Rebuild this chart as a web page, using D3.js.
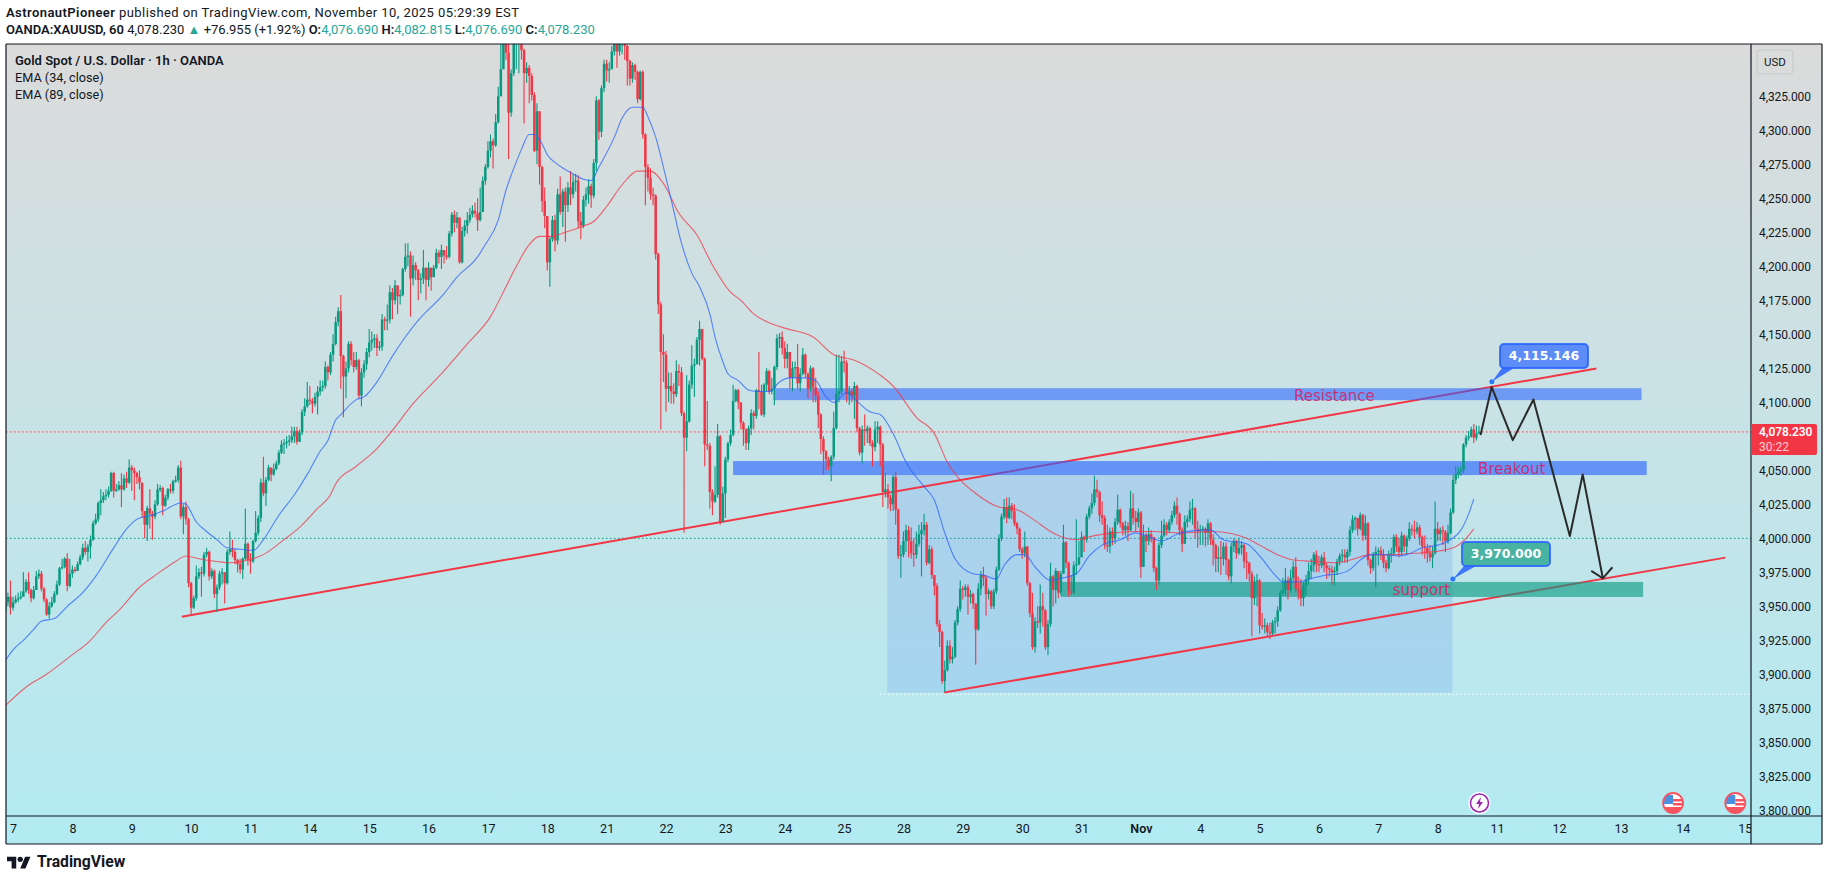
<!DOCTYPE html>
<html>
<head>
<meta charset="utf-8">
<title>XAUUSD 1h</title>
<script src="https://cdn.jsdelivr.net/npm/d3@7"></script>
<style>
  html, body { margin: 0; padding: 0; background: #fff; }
  svg { display: block; }
  text { font-family: Roboto, sans-serif; fill: #131722; }
</style>
</head>
<body>
<svg id="chart" width="1829" height="881"></svg>
<script>
var firstOpen = 3946;

// hourly bars, oldest first
var closes = [
  3953,3957,3949,3953,3955,3956,3957,3961,3968,3962,
  3956,3962,3972,3974,3963,3955,3944,3950,3953,3959,
  3966,3978,3979,3985,3965,3974,3977,3976,3981,3986,
  3993,3990,3994,3999,4011,4014,4026,4028,4031,4032,
  4035,4048,4035,4036,4039,4036,4044,4041,4052,4050,
  4048,4045,4041,4020,4010,4022,4018,4016,4025,4036,
  4037,4024,4030,4036,4035,4042,4043,4052,4016,4023,
  4014,3967,3949,3956,3972,3975,3974,3988,3990,3972,
  3976,3959,3964,3974,3975,3967,3990,3992,3990,3984,
  3981,3977,3985,3996,3984,3983,3998,4004,4015,4041,
  4033,4043,4052,4047,4051,4055,4063,4069,4070,4071,
  4072,4075,4079,4071,4078,4093,4097,4102,4101,4099,
  4104,4108,4111,4112,4126,4122,4135,4143,4159,4167,
  4134,4119,4125,4143,4131,4126,4131,4105,4122,4128,
  4137,4144,4146,4147,4140,4141,4161,4160,4161,4181,
  4175,4186,4178,4179,4198,4207,4208,4191,4201,4197,
  4190,4191,4199,4190,4199,4192,4199,4210,4207,4212,
  4208,4207,4224,4238,4232,4236,4203,4226,4230,4234,
  4238,4241,4239,4234,4240,4263,4273,4285,4292,4289,
  4306,4325,4345,4364,4357,4313,4342,4365,4370,4378,
  4359,4342,4346,4340,4326,4285,4314,4273,4248,4237,
  4203,4220,4234,4219,4253,4240,4255,4245,4258,4253,
  4262,4263,4233,4230,4249,4253,4259,4252,4276,4322,
  4299,4331,4349,4344,4345,4358,4364,4358,4364,4366,
  4362,4351,4338,4348,4343,4323,4343,4297,4273,4265,
  4253,4252,4209,4172,4137,4135,4110,4112,4108,4106,
  4123,4122,4092,4074,4086,4113,4127,4128,4146,4154,
  4132,4069,4068,4034,4027,4032,4075,4012,4033,4058,
  4070,4076,4101,4109,4100,4085,4080,4070,4081,4092,
  4090,4109,4108,4091,4113,4123,4108,4110,4126,4147,
  4148,4140,4132,4137,4118,4125,4126,4114,4121,4135,
  4121,4110,4125,4111,4105,4091,4073,4064,4058,4053,
  4060,4081,4106,4108,4130,4129,4106,4108,4105,4112,
  4081,4063,4080,4079,4081,4070,4067,4080,4082,4069,
  4034,4036,4030,4025,4045,4021,3987,3988,3998,4006,
  3998,3989,3988,3996,4003,4006,4010,3982,3992,3973,
  3965,3937,3931,3895,3903,3921,3911,3913,3938,3948,
  3963,3962,3964,3957,3959,3952,3933,3963,3973,3971,
  3959,3961,3950,3961,3977,4000,4016,4023,4015,4024,
  4020,4011,4007,3992,3989,3994,3967,3945,3920,3939,
  3938,3950,3947,3920,3937,3972,3962,3976,3960,3974,
  3997,3982,3961,3960,3980,3981,3986,4001,3999,4016,
  4022,4026,4036,4034,4017,4015,3995,3994,4005,4000,
  4012,4021,4011,4006,4009,4006,4022,4015,4012,4019,
  3979,4002,3998,4003,4001,3978,3969,3995,4002,4010,
  4006,4012,4017,4024,4018,4006,3996,4012,4014,4021,4022,4007,
  4005,4006,4007,4004,4011,3999,3995,3985,3986,3985,
  3994,3984,3972,3994,3998,3989,3993,3995,3983,3982,
  3974,3956,3968,3969,3936,3935,3936,3931,3930,3938,
  3939,3947,3960,3962,3969,3962,3971,3979,3963,3962,
  3956,3965,3970,3976,3980,3988,3981,3980,3986,3980,
  3978,3977,3975,3976,3983,3987,3988,3986,3990,4006,
  4014,4015,4007,4017,4002,4011,3984,3978,3988,3990,
  3991,3988,3982,3978,3988,3989,4001,3994,3990,4002,
  3994,4000,4007,4006,4005,4008,4001,3994,3993,3989,
  3986,3989,4007,4003,4006,4005,3998,4004,4019,4043,
  4047,4049,4050,4069,4074,4075,4080,4074,4077,4078.23
];

var highs = [
  3958,3960,3969,3957,3958,3960,3961,3975,3970,3975,
  3963,3965,3976,3977,3976,3964,3956,3953,3957,3961,
  3969,3979,3985,3986,3989,3985,3980,3979,3983,3988,
  3996,3998,3996,4002,4013,4018,4027,4036,4034,4036,
  4038,4049,4049,4040,4042,4048,4047,4049,4058,4054,
  4052,4049,4050,4037,4020,4024,4036,4020,4028,4040,
  4039,4038,4032,4037,4040,4043,4046,4054,4057,4025,
  4027,4015,3968,3958,3980,3978,3979,3990,3993,3991,
  3978,3977,3966,3976,3978,3975,3992,4005,3999,3992,
  3985,3985,3986,4022,3997,3989,3999,4020,4017,4044,
  4060,4045,4054,4052,4055,4057,4065,4072,4073,4075,
  4076,4082,4082,4082,4080,4095,4103,4115,4112,4103,
  4107,4112,4116,4116,4130,4127,4137,4150,4163,4170,
  4179,4135,4130,4145,4145,4137,4137,4132,4125,4131,
  4140,4154,4152,4150,4150,4145,4165,4163,4172,4186,
  4184,4190,4186,4183,4199,4217,4217,4211,4208,4203,
  4198,4195,4212,4199,4203,4199,4201,4213,4212,4216,
  4212,4215,4226,4240,4241,4240,4235,4229,4234,4240,
  4243,4245,4247,4250,4258,4266,4275,4292,4297,4294,
  4312,4332,4365,4366,4375,4370,4345,4370,4385,4390,
  4380,4360,4350,4348,4342,4328,4320,4314,4274,4258,
  4236,4222,4237,4238,4257,4266,4257,4258,4262,4270,
  4268,4268,4267,4240,4252,4258,4264,4261,4279,4325,
  4323,4333,4352,4352,4350,4362,4372,4372,4370,4372,
  4372,4363,4352,4350,4349,4344,4344,4344,4298,4275,
  4272,4258,4253,4210,4174,4150,4138,4122,4122,4114,
  4131,4128,4126,4093,4120,4116,4142,4132,4148,4160,
  4154,4133,4101,4070,4036,4053,4084,4076,4038,4060,
  4071,4080,4113,4110,4110,4100,4086,4081,4083,4095,
  4094,4110,4137,4113,4114,4125,4124,4118,4127,4150,
  4151,4152,4145,4143,4137,4130,4130,4143,4125,4140,
  4136,4122,4127,4126,4118,4108,4092,4075,4065,4060,
  4061,4093,4135,4135,4134,4138,4131,4112,4110,4115,
  4113,4082,4083,4091,4083,4082,4072,4086,4086,4083,
  4070,4048,4040,4032,4047,4049,4022,3995,4005,4010,
  4009,4008,4000,4005,4010,4012,4018,4012,3995,3994,
  3973,3967,3940,3932,3910,3925,3925,3920,3940,3950,
  3969,3965,3966,3966,3962,3960,3952,3967,3976,3979,
  3973,3963,3962,3963,3979,4003,4018,4029,4030,4030,
  4026,4025,4012,4008,3993,4005,3994,3968,3960,3942,
  3950,3966,3960,3948,3940,3982,3973,3978,3976,3976,
  4010,3998,3983,3973,3983,4014,3998,4005,4002,4018,
  4024,4033,4046,4043,4035,4027,4017,4010,4008,4008,
  4015,4032,4022,4012,4013,4012,4035,4033,4020,4022,
  4020,4010,4004,4008,4006,4000,3979,3997,4013,4014,
  4012,4014,4020,4027,4030,4019,4008,4017,4017,4027,4029,4023,
  4013,4010,4009,4008,4014,4012,4003,3996,3994,3998,
  3997,3997,3985,3997,4000,3999,4000,3998,3996,3990,
  3983,3976,3972,3974,3970,3945,3941,3938,3938,3940,
  3942,3950,3962,3971,3978,3972,3977,3983,3986,3972,
  3970,3968,3973,3982,3985,3990,3991,3987,3988,3990,
  3982,3980,3980,3979,3985,3989,3992,3992,3992,4009,
  4017,4016,4012,4019,4018,4017,4012,3985,3990,3994,
  3993,3994,3992,3984,3991,3993,4003,4003,4000,4005,
  4003,4002,4012,4010,4013,4012,4010,4002,4002,3996,
  3995,3994,4027,4012,4008,4009,4006,4010,4022,4047,
  4053,4052,4053,4070,4076,4079,4082,4084,4083,4082.8
];

var lows = [
  3940,3950,3944,3947,3952,3953,3955,3958,3960,3959,
  3953,3955,3962,3970,3961,3953,3943,3941,3949,3952,
  3958,3965,3977,3978,3961,3964,3971,3975,3976,3980,
  3984,3988,3983,3985,3998,4010,4012,4017,4026,4028,
  4030,4034,4030,4034,4035,4023,4035,4037,4040,4035,
  4028,4040,4036,4015,4000,3998,4007,3999,4014,4024,
  4034,4017,4023,4028,4033,4033,4041,4041,4014,4003,
  4010,3964,3944,3948,3954,3970,3957,3972,3986,3969,
  3970,3956,3946,3962,3966,3952,3966,3988,3986,3981,
  3975,3974,3970,3984,3980,3974,3982,3997,4002,4012,
  4031,4024,4042,4042,4046,4050,4054,4062,4062,4066,
  4068,4070,4070,4069,4071,4076,4090,4096,4098,4092,
  4097,4091,4105,4108,4110,4116,4120,4130,4142,4156,
  4110,4089,4103,4122,4127,4122,4124,4103,4097,4118,
  4124,4133,4138,4140,4134,4138,4138,4153,4153,4158,
  4161,4172,4165,4172,4178,4196,4200,4163,4186,4190,
  4175,4180,4187,4175,4185,4182,4193,4198,4202,4198,
  4202,4205,4206,4222,4225,4228,4202,4202,4222,4224,
  4232,4236,4236,4226,4233,4240,4260,4272,4280,4272,
  4288,4305,4333,4345,4352,4279,4310,4340,4345,4342,
  4352,4305,4335,4320,4322,4284,4275,4260,4240,4228,
  4197,4185,4218,4211,4216,4238,4229,4218,4240,4245,
  4250,4255,4228,4220,4228,4244,4246,4243,4250,4270,
  4293,4295,4328,4336,4335,4345,4355,4346,4355,4356,
  4352,4333,4333,4335,4337,4320,4322,4294,4245,4255,
  4249,4245,4205,4165,4080,4115,4093,4100,4099,4099,
  4104,4112,4090,4004,4064,4085,4110,4104,4128,4127,
  4131,4053,4065,4022,4017,4026,4030,4010,4012,4015,
  4056,4068,4075,4100,4095,4080,4068,4065,4065,4076,
  4080,4088,4095,4090,4089,4108,4106,4106,4098,4124,
  4140,4135,4125,4125,4110,4108,4118,4110,4108,4120,
  4118,4103,4108,4100,4100,4081,4062,4047,4050,4050,
  4042,4058,4080,4100,4106,4122,4100,4098,4100,4088,
  4078,4061,4055,4068,4070,4068,4053,4064,4070,4053,
  4023,4030,4022,4020,4020,4010,3985,3971,3986,3990,
  3986,3985,3979,3985,3994,3972,4002,3980,3981,3970,
  3958,3935,3920,3893,3887,3902,3908,3908,3912,3936,
  3946,3955,3957,3944,3952,3948,3907,3932,3958,3965,
  3943,3955,3948,3948,3959,3976,3998,4014,4011,4014,
  4014,4009,4003,3990,3985,3986,3965,3942,3918,3916,
  3934,3930,3935,3918,3914,3935,3950,3952,3956,3958,
  3974,3978,3957,3958,3959,3973,3980,3990,3990,3997,
  4014,4018,4024,4030,4012,4010,3992,3990,3989,3995,
  3996,4010,4008,4002,4002,3998,4005,4010,4005,4008,
  3971,3979,3990,3995,3997,3975,3962,3966,3993,4001,
  4002,4004,4010,4015,4010,4002,3990,3996,4008,4012,4010,4000,
  3993,3995,3995,3994,3995,3995,3980,3975,3975,3973,
  3980,3973,3969,3967,3990,3985,3988,3988,3978,3970,
  3968,3928,3951,3950,3930,3933,3930,3928,3926,3929,
  3930,3935,3946,3958,3958,3955,3960,3968,3960,3955,
  3950,3950,3958,3966,3970,3975,3975,3975,3978,3975,
  3970,3972,3966,3965,3973,3980,3982,3982,3982,3987,
  4004,4006,4002,4006,3998,3999,3980,3974,3976,3964,
  3980,3984,3978,3975,3977,3982,3987,3990,3986,3987,
  3990,3988,3998,4002,4000,4003,3995,3988,3985,3982,
  3983,3978,3988,3998,3998,3995,3990,3996,4003,4018,
  4040,4044,4046,4048,4067,4072,4074,4070,4072,4076.7
];

var ema34Bars = [0,3,7,11,14,19,24,30,35,42,47,52,55,61,68,70,74,78,82,86,91,96,100,106,112,117,122,125,128,130,136,139,144,150,155,159,170,175,183,186,191,194,197,200,203,205,208,210,214,220,224,227,230,236,239,243,247,249,252,255,258,262,266,269,273,275,278,280,284,288,291,296,300,304,310,314,318,321,326,331,335,339,344,349,356,360,364,368,375,379,384,387,392,395,399,405,410,415,420,425,432,438,442,448,454,464,467,472,481,486,492,495,501,507,512,517,521,525,529,534,540,543,549,555,560,564,567,569];
var ema34Values = [3910,3918,3925,3933,3939,3941,3950,3960,3972,3993,4007,4015,4016,4020,4026,4025,4012,4005,3999,3993,3992,3991,3999,4017,4032,4047,4064,4072,4087,4091,4102,4104,4115,4134,4148,4158,4180,4192,4207,4216,4234,4256,4272,4286,4297,4297,4290,4282,4275,4268,4264,4263,4273,4295,4309,4317,4317,4310,4295,4273,4249,4217,4195,4185,4165,4148,4130,4121,4116,4109,4108,4108,4115,4118,4118,4116,4104,4100,4107,4099,4093,4091,4077,4056,4038,4028,4004,3985,3974,3973,3970,3980,3988,3988,3979,3969,3971,3974,3987,3995,3999,4004,4002,3998,4003,4006,4006,3999,3996,3987,3973,3968,3968,3971,3973,3974,3977,3984,3988,3988,3987,3988,3993,3995,3999,4006,4018,4029];

var ema89Bars = [0,9,16,25,33,39,44,52,59,66,70,75,82,87,94,100,108,114,121,126,128,136,144,149,158,168,179,188,194,198,203,207,211,217,223,228,233,239,245,250,255,261,268,274,281,285,290,298,303,313,321,329,339,344,353,360,365,370,376,385,392,399,405,411,415,422,430,438,445,455,468,481,486,493,499,507,516,521,529,538,546,553,561,566,569];
var ema89Values = [3877,3892,3900,3913,3925,3938,3947,3964,3974,3983,3987,3985,3983,3982,3984,3988,3999,4008,4022,4032,4040,4053,4066,4077,4099,4119,4143,4163,4185,4200,4216,4222,4222,4225,4229,4233,4244,4260,4270,4270,4261,4239,4223,4201,4181,4175,4165,4157,4154,4148,4135,4131,4120,4112,4089,4077,4056,4043,4033,4023,4021,4013,4005,4000,3999,4002,4004,4005,4005,4004,4005,4000,3995,3988,3984,3983,3982,3984,3988,3988,3989,3990,3993,4000,4007];

var priceTicks = [4325,4300,4275,4250,4225,4200,4175,4150,4125,4100,4050,4025,4000,3975,3950,3925,3900,3875,3850,3825,3800];
var dayBars = [3,26,49,72,95,118,141,164,187,210,233,256,279,302,325,348,371,394,417,440,463,486,509,532,555,578,602,626,650,674];
var dayLabels = ['7','8','9','10','11','14','15','16','17','18','21','22','23','24','25','28','29','30','31','Nov','4','5','6','7','8','11','12','13','14','15'];

// drawings: bar, price
var rangeBox = { bars: [341.7, 560.7], prices: [4046.5, 3886.5] };
var bands = [
  { bars: [297.6, 634], prices: [4110.4, 4101.6], color: '#2962ff', opacity: 0.56 },
  { bars: [282, 636], prices: [4056.8, 4046.5], color: '#2962ff', opacity: 0.62 },
  { bars: [409, 634.6], prices: [3967.9, 3956.9], color: '#089981', opacity: 0.62 }
];
var trendBars = [[68.4, 616.5], [363.8, 666.5]];
var trendPrices = [[3942.4, 4124.9], [3886.6, 3985.8]];
var pathBars = [571.6, 575.9, 584.1, 592.1, 606.2, 611.2, 619];
var pathPrices = [4075.9, 4111.3, 4072.2, 4102.1, 4001.7, 4047, 3970.6];
var arrowBars = [614.5, 619, 622.7];
var arrowPrices = [3976, 3970.6, 3978.7];
var lastPrice = 4078.23;
var lowLine = 3885.4;
var eventBars = [571.2, 646.2, 670.3];

var svg = d3.select('#chart');

var plotLeft = 6, plotTop = 44, plotRight = 1751, plotBottom = 816, outerRight = 1822, outerBottom = 844;

var x = d3.scaleLinear().domain([0, 676.4]).range([5.3, plotRight]);
var y = d3.scaleLinear().domain([3795.8, 4363.5]).range([plotBottom, plotTop]);

var defs = svg.append('defs');
var grad = defs.append('linearGradient').attr('id', 'bg').attr('x1', 0).attr('y1', 0).attr('x2', 0).attr('y2', 1);
grad.append('stop').attr('offset', '0%').attr('stop-color', '#dbdbdb');
grad.append('stop').attr('offset', '100%').attr('stop-color', '#b2ebf2');

defs.append('clipPath').attr('id', 'plot').append('rect')
  .attr('x', plotLeft).attr('y', plotTop).attr('width', plotRight - plotLeft).attr('height', plotBottom - plotTop);
defs.append('clipPath').attr('id', 'priceClip').append('rect')
  .attr('x', plotRight).attr('y', plotTop).attr('width', outerRight - plotRight).attr('height', plotBottom - plotTop);
defs.append('clipPath').attr('id', 'timeClip').append('rect')
  .attr('x', plotLeft).attr('y', plotBottom).attr('width', plotRight - plotLeft).attr('height', outerBottom - plotBottom);

svg.append('rect').attr('x', plotLeft).attr('y', plotTop)
  .attr('width', outerRight - plotLeft).attr('height', outerBottom - plotTop)
  .attr('fill', 'url(#bg)');

var plot = svg.append('g').attr('clip-path', 'url(#plot)');

// level lines
function level(value, color, from) {
  plot.append('line')
    .attr('x1', from).attr('x2', plotRight)
    .attr('y1', y(value)).attr('y2', y(value))
    .attr('stroke', color).attr('stroke-width', 1)
    .attr('stroke-dasharray', '1.5 2.5');
}
level(lowLine, '#ffffff', 880);
level(4000, '#089981', plotLeft);
level(lastPrice, '#f23645', plotLeft);

// range box
plot.append('rect')
  .attr('x', x(rangeBox.bars[0])).attr('width', x(rangeBox.bars[1]) - x(rangeBox.bars[0]))
  .attr('y', y(rangeBox.prices[0])).attr('height', y(rangeBox.prices[1]) - y(rangeBox.prices[0]))
  .attr('fill', '#2962ff').attr('fill-opacity', 0.14);

// trend lines
trendBars.forEach(function(b, i) {
  plot.append('line')
    .attr('x1', x(b[0])).attr('x2', x(b[1]))
    .attr('y1', y(trendPrices[i][0])).attr('y2', y(trendPrices[i][1]))
    .attr('stroke', '#f23645').attr('stroke-width', 2);
});

plot.selectAll('.band')
  .data(bands)
  .enter()
  .append('rect')
  .attr('class', 'band')
  .attr('x', function(d) { return x(d.bars[0]); })
  .attr('width', function(d) { return x(d.bars[1]) - x(d.bars[0]); })
  .attr('y', function(d) { return y(d.prices[0]); })
  .attr('height', function(d) { return y(d.prices[1]) - y(d.prices[0]); })
  .attr('fill', function(d) { return d.color; })
  .attr('fill-opacity', function(d) { return d.opacity; });

// candles
var bars = closes.map(function(c, i) {
  return { i: i, open: i ? closes[i - 1] : firstOpen, close: c, high: highs[i], low: lows[i] };
});

function candleColor(d) {
  return d.close >= d.open ? '#089981' : '#f23645';
}

var candles = plot.selectAll('.candle').data(bars).enter().append('g').attr('class', 'candle');

candles.append('line')
  .attr('x1', function(d) { return x(d.i); })
  .attr('x2', function(d) { return x(d.i); })
  .attr('y1', function(d) { return y(d.high); })
  .attr('y2', function(d) { return y(d.low); })
  .attr('stroke', candleColor)
  .attr('stroke-width', 1.1);

candles.append('rect')
  .attr('x', function(d) { return x(d.i) - 1.25; })
  .attr('width', 2.5)
  .attr('y', function(d) { return y(Math.max(d.open, d.close)); })
  .attr('height', function(d) { return Math.max(1, Math.abs(y(d.open) - y(d.close))); })
  .attr('fill', candleColor);

// EMA lines
var emaLine = d3.line()
  .x(function(d) { return x(d[0]); })
  .y(function(d) { return y(d[1]); })
  .curve(d3.curveMonotoneX);

plot.append('path')
  .attr('d', emaLine(d3.zip(ema89Bars, ema89Values)))
  .attr('fill', 'none').attr('stroke', '#f23645').attr('stroke-opacity', 0.75).attr('stroke-width', 1.1);
plot.append('path')
  .attr('d', emaLine(d3.zip(ema34Bars, ema34Values)))
  .attr('fill', 'none').attr('stroke', '#2962ff').attr('stroke-opacity', 0.75).attr('stroke-width', 1.1);

// zone labels
function zoneLabel(text, bar, price) {
  plot.append('text')
    .attr('x', x(bar)).attr('y', y(price))
    .attr('text-anchor', 'middle').attr('dy', '0.35em')
    .style('font-family', '"DejaVu Sans", sans-serif')
    .style('font-size', '15px')
    .style('fill', '#d81b60')
    .style('fill-opacity', 0.85)
    .text(text);
}
zoneLabel('Resistance', 515, 4105);
zoneLabel('Breakout', 583.7, 4051);
zoneLabel('support', 548.7, 3962);

// projected path
plot.append('path')
  .attr('d', d3.line()(pathBars.map(function(b, i) { return [x(b), y(pathPrices[i])]; })))
  .attr('fill', 'none').attr('stroke', '#2a2a2a').attr('stroke-width', 2).attr('stroke-linejoin', 'round');
plot.append('path')
  .attr('d', d3.line()(arrowBars.map(function(b, i) { return [x(b), y(arrowPrices[i])]; })))
  .attr('fill', 'none').attr('stroke', '#2a2a2a').attr('stroke-width', 2);

// callouts
function callout(value, bar, boxX, boxY, fill) {
  var px = x(bar), py = y(value);
  var g = plot.append('g');
  g.append('path')
    .attr('d', d3.line()([[px, py], [boxX + 2, boxY + 24], [boxX + 14, boxY + 24]]) + 'Z')
    .attr('fill', '#2962ff').attr('fill-opacity', 0.85);
  g.append('circle').attr('cx', px).attr('cy', py).attr('r', 2.5).attr('fill', '#2979ff');
  g.append('rect')
    .attr('x', boxX).attr('y', boxY).attr('width', 88).attr('height', 24).attr('rx', 4)
    .attr('fill', fill).attr('stroke', '#2962ff').attr('stroke-opacity', 0.85).attr('stroke-width', 2);
  g.append('text')
    .attr('x', boxX + 44).attr('y', boxY + 12).attr('dy', '0.35em').attr('text-anchor', 'middle')
    .style('font-family', '"DejaVu Sans", sans-serif')
    .style('font-weight', 'bold').style('font-size', '12.5px').style('fill', '#fff')
    .text(d3.format(',.3f')(value));
}
callout(4115.146, 576, 1500, 344, '#5b8cf7');
callout(3970, 560.9, 1462, 542, '#48b3a3');

// event icons
var iconY = 803;
var bolt = svg.append('g').attr('transform', 'translate(' + x(eventBars[0]) + ',' + iconY + ')');
bolt.append('circle').attr('r', 10).attr('fill', '#fff').attr('stroke', '#fff').attr('stroke-width', 2);
bolt.append('circle').attr('r', 9).attr('fill', 'none').attr('stroke', '#9c27b0').attr('stroke-width', 1.6);
bolt.append('path').attr('d', 'M1.5 -6 L-3.5 1 L-0.5 1 L-1.5 6 L3.5 -1 L0.5 -1 Z').attr('fill', '#9c27b0');

eventBars.slice(1).forEach(function(b, i) {
  var id = 'flag' + i;
  var f = svg.append('g').attr('transform', 'translate(' + x(b) + ',' + iconY + ')');
  defs.append('clipPath').attr('id', id).append('circle').attr('r', 9.5);
  var inner = f.append('g').attr('clip-path', 'url(#' + id + ')');
  inner.append('rect').attr('x', -11).attr('y', -11).attr('width', 22).attr('height', 22).attr('fill', '#fff');
  inner.append('rect').attr('x', -10).attr('y', -8).attr('width', 10).attr('height', 9).attr('fill', '#4a90e2');
  inner.append('rect').attr('x', 0).attr('y', -4).attr('width', 11).attr('height', 2.5).attr('fill', '#f7525f');
  inner.append('rect').attr('x', 0).attr('y', 0).attr('width', 11).attr('height', 2.5).attr('fill', '#f7525f');
  inner.append('rect').attr('x', -11).attr('y', 4).attr('width', 22).attr('height', 7).attr('fill', '#f7525f');
  f.append('circle').attr('r', 10).attr('fill', 'none').attr('stroke', '#f7525f').attr('stroke-width', 1.8);
});

// axes
var priceAxis = svg.append('g')
  .attr('clip-path', 'url(#priceClip)')
  .append('g')
  .attr('transform', 'translate(' + plotRight + ',0)')
  .call(d3.axisRight(y).tickValues(priceTicks).tickSize(0).tickPadding(8).tickFormat(d3.format(',.3f')));
priceAxis.select('.domain').remove();
priceAxis.selectAll('text').style('font-size', '12px').style('letter-spacing', '-0.1px').style('fill', '#131722');

var timeAxis = svg.append('g')
  .attr('clip-path', 'url(#timeClip)')
  .append('g')
  .attr('transform', 'translate(0,' + plotBottom + ')')
  .call(d3.axisBottom(x).tickValues(dayBars).tickSize(0).tickPadding(8)
    .tickFormat(function(d, i) { return dayLabels[i]; }));
timeAxis.select('.domain').remove();
timeAxis.selectAll('text')
  .style('font-size', '12.5px').style('fill', '#131722')
  .style('font-weight', function(d, i) { return dayLabels[i] === 'Nov' ? 600 : 400; });

// frame
[[plotLeft, plotTop, outerRight, plotTop], [plotLeft, outerBottom, outerRight, outerBottom],
 [plotLeft, plotTop, plotLeft, outerBottom], [outerRight, plotTop, outerRight, outerBottom],
 [plotRight, plotTop, plotRight, outerBottom], [plotLeft, plotBottom, outerRight, plotBottom]].forEach(function(s) {
  svg.append('line')
    .attr('x1', s[0]).attr('y1', s[1]).attr('x2', s[2]).attr('y2', s[3])
    .attr('stroke', '#131722').attr('stroke-width', 1.2);
});

// last price tag
var tagY = y(lastPrice);
svg.append('path')
  .attr('d', 'M' + plotRight + ' ' + (tagY - 8) + 'h64q2 0 2 2v27q0 2 -2 2h-64z')
  .attr('fill', '#f23645');
svg.append('text')
  .attr('x', plotRight + 8).attr('y', tagY).attr('dy', '0.35em')
  .style('font-size', '12px').style('font-weight', 600).style('letter-spacing', '-0.1px').style('fill', '#fff')
  .text(d3.format(',.3f')(lastPrice));
svg.append('text')
  .attr('x', plotRight + 8).attr('y', tagY + 15).attr('dy', '0.35em')
  .style('font-size', '12px').style('fill', '#ffd0d4')
  .text('30:22');

// currency button
svg.append('rect')
  .attr('x', 1757).attr('y', 50).attr('width', 36).attr('height', 24).attr('rx', 3)
  .attr('fill', 'none').attr('stroke', '#c4cacc');
svg.append('text')
  .attr('x', 1775).attr('y', 62).attr('dy', '0.35em').attr('text-anchor', 'middle')
  .style('font-size', '11.5px').text('USD');

// header and legend
var line1 = svg.append('text').attr('x', 6).attr('y', 12).attr('dy', '0.35em')
  .style('font-size', '13px').style('letter-spacing', '0.43px');
line1.append('tspan').style('font-weight', 600).text('AstronautPioneer');
line1.append('tspan').text(' published on TradingView.com, November 10, 2025 05:29:39 EST');

var line2 = svg.append('text').attr('x', 6).attr('y', 29).attr('dy', '0.35em').style('font-size', '13px');
line2.append('tspan').style('font-weight', 600).text('OANDA:XAUUSD, 60');
line2.append('tspan').text('  4,078.230 ');
line2.append('tspan').style('fill', '#26a69a').text('▲');
line2.append('tspan').text(' +76.955 (+1.92%)  ');
[['O:', '4,076.690'], ['H:', '4,082.815'], ['L:', '4,076.690'], ['C:', '4,078.230']].forEach(function(p) {
  line2.append('tspan').style('font-weight', 600).text(p[0]);
  line2.append('tspan').style('fill', '#26a69a').text(p[1] + '  ');
});

svg.append('text').attr('x', 15).attr('y', 60.5).attr('dy', '0.35em')
  .style('font-size', '13px').style('font-weight', 600).text('Gold Spot / U.S. Dollar · 1h · OANDA');
['EMA (34, close)', 'EMA (89, close)'].forEach(function(t, i) {
  svg.append('text').attr('x', 15).attr('y', 77.5 + i * 17).attr('dy', '0.35em')
    .style('font-size', '12.7px').text(t);
});

// brand
var logo = svg.append('g').attr('transform', 'translate(7,854) scale(0.66)');
logo.append('path').attr('d', 'M14 22H7V11H0V4h14v18zM28 22h-8l7.5-18h8L28 22z').attr('fill', '#131722');
logo.append('circle').attr('cx', 20).attr('cy', 8).attr('r', 4).attr('fill', '#131722');
svg.append('text').attr('x', 37).attr('y', 862).attr('dy', '0.35em')
  .style('font-size', '15.7px').style('font-weight', 700).text('TradingView');
</script>
</body>
</html>
